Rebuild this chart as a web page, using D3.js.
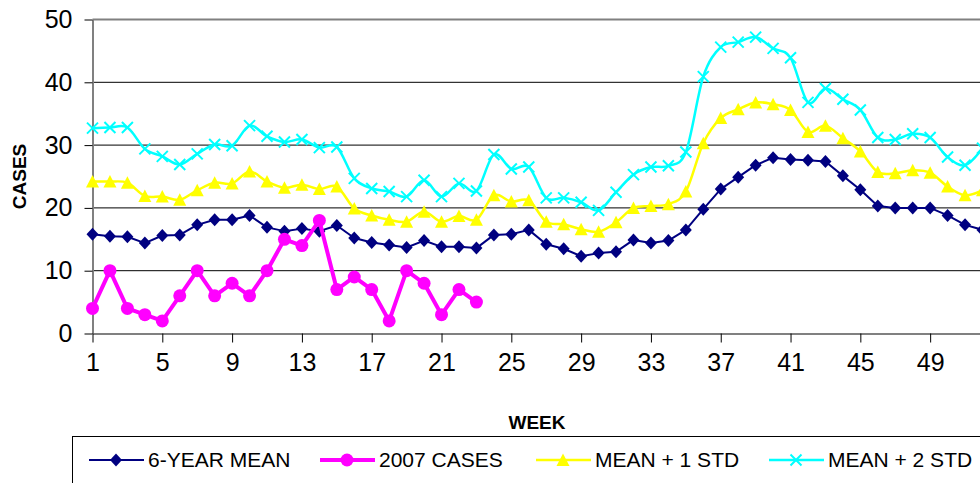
<!DOCTYPE html>
<html>
<head>
<meta charset="utf-8">
<script src="https://cdn.jsdelivr.net/npm/d3@7"></script>
<style>
body { margin: 0; background: #fff; }
svg { display: block; font-family: Arial, "Liberation Sans", sans-serif; }
</style>
</head>
<body>
<div id="chart"></div>
<script>
// DATA
const weeks = d3.range(1, 53);
const mean_6yr = [15.8, 15.5, 15.4, 14.4, 15.6, 15.7, 17.3, 18.1, 18.1, 18.8,
    16.9, 16.3, 16.7, 16.3, 17.2, 15.2, 14.5, 14.1, 13.7, 14.8,
    13.8, 13.8, 13.6, 15.7, 15.8, 16.5, 14.2, 13.5, 12.3, 12.8,
    13.0, 14.9, 14.4, 14.8, 16.5, 19.8, 23.0, 24.9, 26.8, 28.0,
    27.7, 27.6, 27.4, 25.1, 22.9, 20.3, 20.0, 20.0, 20.0, 18.8,
    17.3, 16.5];
const cases_2007 = [4, 10, 4, 3, 2, 6, 10, 6, 8, 6, 10, 15, 14, 18, 7, 9, 7, 2, 10, 8, 3, 7, 5];
const mean_1std = [24.2, 24.2, 24.0, 21.9, 21.8, 21.3, 22.8, 24.0, 23.9, 25.8,
    24.2, 23.2, 23.7, 23.0, 23.4, 19.9, 18.8, 18.1, 17.8, 19.4,
    17.8, 18.7, 18.1, 22.0, 21.0, 21.2, 17.8, 17.4, 16.6, 16.2,
    17.7, 20.0, 20.3, 20.6, 22.6, 30.3, 34.3, 35.7, 36.8, 36.5,
    35.6, 32.1, 33.1, 31.1, 29.0, 25.7, 25.5, 26.0, 25.6, 23.4,
    22.0, 22.8];
const mean_2std = [32.7, 32.8, 32.8, 29.4, 28.2, 26.9, 28.6, 30.1, 29.9, 33.1,
    31.4, 30.5, 30.9, 29.6, 29.7, 24.7, 23.1, 22.6, 21.8, 24.4,
    21.8, 23.9, 22.7, 28.5, 26.2, 26.5, 21.6, 21.6, 20.9, 19.6,
    22.5, 25.3, 26.5, 26.7, 28.9, 40.9, 45.6, 46.4, 47.2, 45.4,
    43.9, 36.8, 39.0, 37.3, 35.6, 31.2, 30.9, 31.8, 31.2, 28.1,
    26.8, 29.5];
const x_ticks = [1, 5, 9, 13, 17, 21, 25, 29, 33, 37, 41, 45, 49];
const y_ticks = [0, 10, 20, 30, 40, 50];
const series_names = ["6-YEAR MEAN", "2007 CASES", "MEAN + 1 STD", "MEAN + 2 STD"];

//HELPERS
const marker_paths = {
    diamond: "M0,-6.5L6,0L0,6.5L-6,0Z",
    triangle: "M0,-6.5L6.5,6L-6.5,6Z",
    cross: "M-5.5,-5.5L5.5,5.5M-5.5,5.5L5.5,-5.5"
};
function draw_marker(g, kind, color) {
    if (kind === "circle") {
        g.append("circle").attr("r", 6.5).attr("fill", color);
    } else if (kind === "cross") {
        g.append("path").attr("d", marker_paths.cross)
            .attr("fill", "none").attr("stroke", color).attr("stroke-width", 2);
    } else {
        g.append("path").attr("d", marker_paths[kind]).attr("fill", color);
    }
}

const width = 980;
const height = 483;
const x = d3.scaleLinear([1, 52], [92.5, 982.5]);
const y = d3.scaleLinear([0, 50], [333.5, 19.5]);

const svg = d3.select("#chart")
    .append("svg")
    .attr("width", width)
    .attr("height", height)
    .attr("viewBox", [0, 0, width, height]);

// gridlines
svg.append("g")
    .selectAll("line")
    .data(y_ticks.filter(d => d > 0 && d < 50))
    .join("line")
        .attr("x1", x(1))
        .attr("x2", width)
        .attr("y1", d => y(d))
        .attr("y2", d => y(d))
        .attr("stroke", "#000")
        .attr("stroke-width", 1);

// top border of plot
svg.append("line")
    .attr("x1", x(1)).attr("x2", width)
    .attr("y1", y(50)).attr("y2", y(50))
    .attr("stroke", "#808080").attr("stroke-width", 2);

// axes
svg.append("g")
    .attr("transform", `translate(${x(1)},0)`)
    .call(d3.axisLeft(y).tickValues(y_ticks).tickSize(8).tickSizeOuter(0).tickPadding(12))
    .call(g => g.select(".domain").attr("stroke", "#808080").attr("stroke-width", 2))
    .call(g => g.selectAll(".tick line").attr("stroke", "#000"))
    .call(g => g.selectAll("text").attr("font-size", 25).attr("font-family", "Arial, 'Liberation Sans'").attr("fill", "#000"));

svg.append("g")
    .attr("transform", `translate(0,${y(0)})`)
    .call(d3.axisBottom(x).tickValues(x_ticks).tickSize(9).tickSizeOuter(0).tickPadding(11))
    .call(g => g.select(".domain").attr("stroke", "#808080").attr("stroke-width", 2))
    .call(g => g.selectAll(".tick line").attr("stroke", "#000"))
    .call(g => g.selectAll("text").attr("font-size", 25).attr("font-family", "Arial, 'Liberation Sans'").attr("fill", "#000"));

// axis titles
svg.append("text")
    .attr("transform", `translate(26,${(y(0) + y(50)) / 2}) rotate(-90)`)
    .attr("text-anchor", "middle")
    .attr("font-weight", "bold")
    .attr("font-size", 19)
    .text("CASES");

svg.append("text")
    .attr("x", 537)
    .attr("y", 429)
    .attr("text-anchor", "middle")
    .attr("font-weight", "bold")
    .attr("font-size", 19)
    .text("WEEK");

// series
const series = [
    {name: series_names[0], values: mean_6yr, color: "#000080", width: 2, curve: d3.curveLinear, marker: "diamond"},
    {name: series_names[1], values: cases_2007, color: "#FF00FF", width: 4, curve: d3.curveLinear, marker: "circle"},
    {name: series_names[2], values: mean_1std, color: "#FFFF00", width: 2.5, curve: d3.curveCatmullRom.alpha(0), marker: "triangle"},
    {name: series_names[3], values: mean_2std, color: "#00FFFF", width: 2.5, curve: d3.curveCatmullRom.alpha(0), marker: "cross"}
];

const plot = svg.append("g");
series.forEach(s => {
    const pts = s.values.map((v, i) => [weeks[i], v]);
    const line = d3.line()
        .x(d => x(d[0]))
        .y(d => y(d[1]))
        .curve(s.curve);
    plot.append("path")
        .datum(pts)
        .attr("fill", "none")
        .attr("stroke", s.color)
        .attr("stroke-width", s.width)
        .attr("stroke-linejoin", "round")
        .attr("d", line);
    plot.append("g")
        .selectAll("g")
        .data(pts)
        .join("g")
            .attr("transform", d => `translate(${x(d[0])},${y(d[1])})`)
            .each(function() { draw_marker(d3.select(this), s.marker, s.color); });
});

// legend
const legend = svg.append("g");
legend.append("rect")
    .attr("x", 72.5).attr("y", 436.5)
    .attr("width", 960).attr("height", 80)
    .attr("fill", "#fff").attr("stroke", "#000").attr("stroke-width", 1);

const legend_x = [89, 320, 536, 769];
series.forEach((s, i) => {
    const g = legend.append("g").attr("transform", `translate(${legend_x[i]},460)`);
    g.append("line")
        .attr("x1", 0).attr("x2", 55)
        .attr("stroke", s.color).attr("stroke-width", s.width);
    draw_marker(g.append("g").attr("transform", "translate(27,0)"), s.marker, s.color);
    g.append("text")
        .attr("x", 59)
        .attr("dy", "0.35em")
        .attr("font-size", 21)
        .text(s.name);
});
</script>
</body>
</html>
